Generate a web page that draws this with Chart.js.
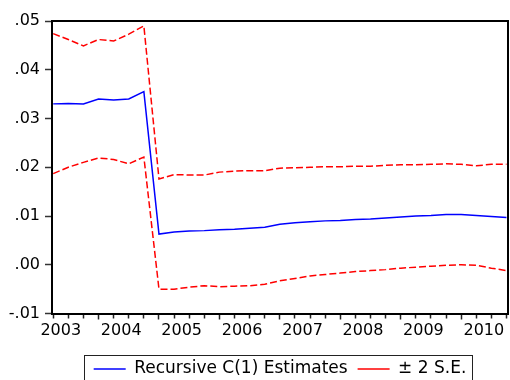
<!DOCTYPE html>
<html>
<head>
<meta charset="utf-8">
<script src="https://cdn.jsdelivr.net/npm/chart.js@4.4.1/dist/chart.umd.min.js"></script>
<style>
  html, body { margin: 0; padding: 0; background: #fff; }
  #wrap { width: 510px; height: 380px; }
</style>
</head>
<body>
<div id="wrap"><canvas id="c" width="510" height="380"></canvas></div>
<script>
// Quarterly observation index of each recursive estimate (first one = 0)
const quarterIdx = [0, 1, 2, 3, 4, 5, 6, 7, 8, 9, 10, 11, 12, 13, 14, 15,
                    16, 17, 18, 19, 20, 21, 22, 23, 24, 25, 26, 27, 28, 29, 30];

// Recursive C(1) estimates
const estimate = [0.0330, 0.0331, 0.0330, 0.0340, 0.0338, 0.0340, 0.0355, 0.0063,
                  0.0067, 0.0069, 0.0070, 0.0072, 0.0073, 0.0075, 0.0077, 0.0083,
                  0.0086, 0.0088, 0.0090, 0.0091, 0.0093, 0.0094, 0.0096, 0.0098,
                  0.0100, 0.0101, 0.0103, 0.0103, 0.0101, 0.0099, 0.0097];

// Estimate + 2 S.E.
const upperBand = [0.0474, 0.0462, 0.0449, 0.0462, 0.0459, 0.0473, 0.0490, 0.0176,
                   0.0185, 0.0184, 0.0184, 0.0190, 0.0192, 0.0193, 0.0193, 0.0198,
                   0.0199, 0.0200, 0.0201, 0.0201, 0.0202, 0.0202, 0.0204, 0.0205,
                   0.0205, 0.0206, 0.0207, 0.0206, 0.0203, 0.0206, 0.0206];

// Estimate - 2 S.E.
const lowerBand = [0.0187, 0.0200, 0.0210, 0.0219, 0.0216, 0.0207, 0.0221, -0.0050,
                   -0.0050, -0.0046, -0.0043, -0.0045, -0.0044, -0.0043, -0.0040, -0.0033,
                   -0.0028, -0.0023, -0.0020, -0.0017, -0.0014, -0.0012, -0.0010, -0.0007,
                   -0.0005, -0.0003, -0.0001, 0.0000, -0.0001, -0.0007, -0.0012];

// Axis labels
const yearLabels = ['2003', '2004', '2005', '2006', '2007', '2008', '2009', '2010'];
const yTickValues = [-0.01, 0.00, 0.01, 0.02, 0.03, 0.04, 0.05];

Chart.defaults.font.family = "'DejaVu Sans', sans-serif";
Chart.defaults.color = '#000';

const toPoints = ys => quarterIdx.map((q, i) => ({ x: q, y: ys[i] }));

// Year label sits in the middle of its first two quarters
const yearPos = i => 0.5 + 4 * i;

const isMajor = v => Number.isInteger(v) && v % 4 === 3;

// Closes the plot frame (top/right) and boxes the legend
const framePlugin = {
  id: 'frame',
  afterDraw(chart) {
    const { ctx, chartArea: a } = chart;
    ctx.save();
    ctx.strokeStyle = '#000';
    ctx.lineWidth = 2;
    ctx.beginPath();
    ctx.moveTo(a.left, a.top);
    ctx.lineTo(a.right, a.top);
    ctx.lineTo(a.right, a.bottom);
    ctx.stroke();

    const lg = chart.legend;
    const hb = lg.legendHitBoxes;
    if (hb && hb.length) {
      const first = hb[0], last = hb[hb.length - 1];
      const left = Math.round(first.left - 9.5) + 0.5;
      const right = Math.round(last.left + last.width + 5.5) + 0.5;
      const top = Math.round(lg.top + 4.5) + 0.5;
      ctx.lineWidth = 1;
      ctx.strokeStyle = '#222';
      ctx.strokeRect(left, top, right - left, 60);
    }
    ctx.restore();
  }
};

new Chart(document.getElementById('c'), {
  type: 'line',
  data: {
    datasets: [
      {
        label: 'Recursive C(1) Estimates',
        data: toPoints(estimate),
        borderColor: '#0000ff',
        borderWidth: 1.5,
        pointRadius: 0,
        tension: 0
      },
      {
        label: '\u00b1 2 S.E.',
        data: toPoints(upperBand),
        borderColor: '#ff0000',
        borderWidth: 1.5,
        borderDash: [7, 3],
        pointRadius: 0,
        tension: 0
      },
      {
        label: '\u00b1 2 S.E.',
        data: toPoints(lowerBand),
        borderColor: '#ff0000',
        borderWidth: 1.5,
        borderDash: [7, 3],
        pointRadius: 0,
        tension: 0
      }
    ]
  },
  options: {
    responsive: false,
    animation: false,
    devicePixelRatio: 1,
    layout: { padding: { top: 21, right: 2, left: 0, bottom: 0 } },
    plugins: {
      tooltip: { enabled: false },
      legend: {
        position: 'bottom',
        fullSize: false,
        maxHeight: 29.5,
        labels: {
          filter: item => item.datasetIndex !== 2,
          usePointStyle: true,
          pointStyle: 'line',
          pointStyleWidth: 32,
          boxWidth: 32,
          padding: 10,
          color: '#000',
          font: { size: 17 }
        }
      }
    },
    scales: {
      x: {
        type: 'linear',
        min: -0.08,
        max: 30.1,
        afterBuildTicks(scale) {
          const t = quarterIdx.map(q => ({ value: q }));
          yearLabels.forEach((_, i) => t.push({ value: yearPos(i) }));
          t.sort((p, q) => p.value - q.value);
          scale.ticks = t;
        },
        afterFit(scale) { scale.height = 37; },
        border: { color: '#000', width: 2 },
        grid: {
          drawOnChartArea: false,
          tickLength: 6,
          tickWidth: 1.5,
          tickColor: c => Number.isInteger(c.tick.value) ? '#222' : 'rgba(0,0,0,0)',
          tickBorderDash: c => isMajor(c.tick.value) ? [] : [3.5, 40]
        },
        ticks: {
          autoSkip: false,
          maxRotation: 0,
          padding: 2,
          color: '#000',
          font: { size: 16 },
          callback: v => {
            if (Number.isInteger(v)) return '';
            const i = Math.round((v - 0.5) / 4);
            return yearLabels[i] || '';
          }
        }
      },
      y: {
        min: -0.01,
        max: 0.05,
        afterBuildTicks(scale) {
          scale.ticks = yTickValues.map(v => ({ value: v }));
        },
        afterFit(scale) { scale.width = 52; },
        border: { color: '#000', width: 2 },
        grid: {
          drawOnChartArea: false,
          tickLength: 7,
          tickWidth: 1.5,
          tickColor: '#333'
        },
        ticks: {
          padding: 5,
          color: '#000',
          font: { size: 16 },
          callback: v => v.toFixed(2).replace(/^(-?)0\./, '$1.')
        }
      }
    }
  },
  plugins: [framePlugin]
});
</script>
</body>
</html>
